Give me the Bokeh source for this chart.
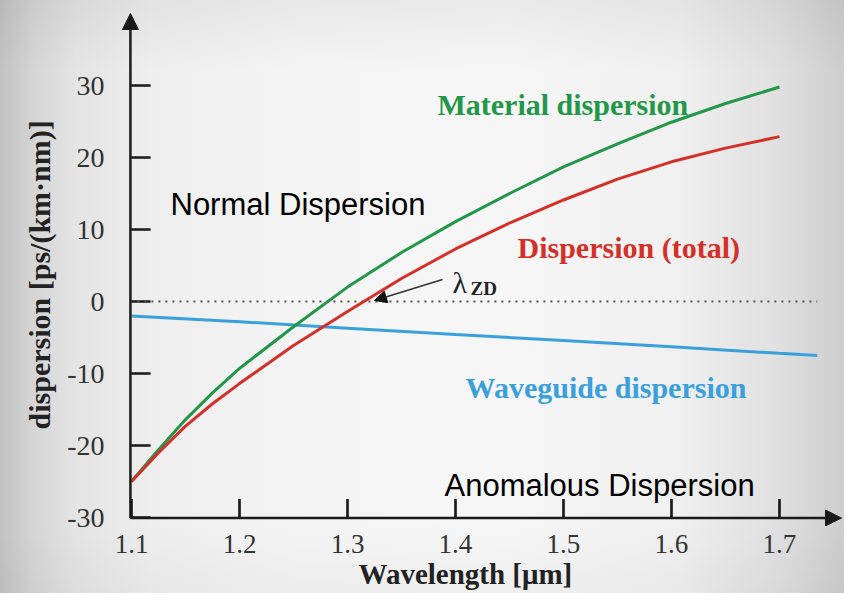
import math
from bokeh.plotting import figure
from bokeh.models import Range1d, FixedTicker, Label, Arrow, NormalHead, Title
from bokeh.embed import file_html
from bokeh.resources import INLINE

# ---- data ----
wavelength = [1.10, 1.125, 1.15, 1.175, 1.20, 1.25, 1.30, 1.35, 1.40, 1.45, 1.50, 1.55, 1.60, 1.65, 1.70]
material_dispersion = [-25.0, -20.6, -16.4, -12.7, -9.3, -3.5, 2.0, 6.8, 11.1, 15.0, 18.7, 21.9, 24.9, 27.5, 29.8]
total_dispersion = [-25.0, -21.0, -17.3, -14.2, -11.4, -6.1, -1.4, 3.2, 7.3, 10.9, 14.1, 17.0, 19.4, 21.3, 22.9]
wg_wavelength = [1.10, 1.20, 1.30, 1.40, 1.50, 1.60, 1.70, 1.735]
waveguide_dispersion = [-2.0, -2.8, -3.7, -4.6, -5.4, -6.3, -7.2, -7.5]
zero_line_x = [1.099, 1.735]
zero_line_y = [0, 0]
x_ticks = [1.1, 1.2, 1.3, 1.4, 1.5, 1.6, 1.7]
y_ticks = [-30, -20, -10, 0, 10, 20, 30]
y_tick_labels = ["-30", "-20", "-10", "0", "10", "20", "30"]
lambda_zd = (1.325, 0.15)

# axis geometry (data units)
AX_X = 1.099          # position of the vertical axis
AX_Y = -30.07         # position of the horizontal axis
X_TIP = 1.7574        # end of horizontal arrow
Y_TIP = 40.0          # end of vertical arrow
PX_X = 1.0 / 1080     # one pixel in x data units
PX_Y = 10.0 / 72      # one pixel in y data units

GREEN = "#22974a"
RED = "#d3302a"
BLUE = "#3aa0dc"
AXIS = "#1a1a1a"
SERIF = "Liberation Serif"
SANS = "Liberation Sans"

p = figure(width=844, height=593, output_backend="svg", toolbar_location=None,
           x_range=Range1d(1.08796, 1.76019), y_range=Range1d(-31.25, 41.806),
           min_border_left=118, min_border_right=0, min_border_top=0, min_border_bottom=67)
p.outline_line_color = None
p.background_fill_alpha = 0
p.border_fill_alpha = 0
p.styles = {
    "background-image": (
        "linear-gradient(to bottom, rgba(0,0,0,0.05) 0%, rgba(0,0,0,0) 12%, rgba(0,0,0,0) 88%, rgba(0,0,0,0.03) 100%), "
        "linear-gradient(to right, #c2c2c2 0%, #d5d5d5 4%, #e4e4e4 9%, #eeeeee 18%, #f4f4f4 35%, #f6f6f6 60%, #f0f0f0 80%, #e0e0e0 92%, #cdcdcd 100%)"
    )
}
p.xgrid.visible = False
p.ygrid.visible = False

for ax, ticks, size, standoff in ((p.xaxis, x_ticks, "27px", 2), (p.yaxis, y_ticks, "28px", 8)):
    ax.ticker = FixedTicker(ticks=ticks)
    ax.axis_line_color = None
    ax.major_tick_line_color = None
    ax.minor_tick_line_color = None
    ax.major_label_text_font = SERIF
    ax.major_label_text_font_size = size
    ax.major_label_text_color = "#333333"
    ax.major_label_standoff = standoff
p.yaxis.major_label_overrides = {float(t): s for t, s in zip(y_ticks, y_tick_labels)}

# axis titles
p.add_layout(Title(text="Wavelength [μm]", align="left", offset=240, standoff=0,
                   text_font=SERIF, text_font_size="29px", text_font_style="bold",
                   text_color="#222222"), "below")
p.add_layout(Title(text="dispersion [ps/(km·nm)]", align="left", offset=97, standoff=17,
                   text_font=SERIF, text_font_size="30px", text_font_style="bold",
                   text_color="#222222"), "left")

# inward tick marks (about 20 px long), as thin filled bars plus strokes
p.quad(left=[AX_X] * len(y_ticks), right=[AX_X + 20 * PX_X] * len(y_ticks),
       bottom=[t - 1.1 * PX_Y for t in y_ticks], top=[t + 1.1 * PX_Y for t in y_ticks],
       fill_color=AXIS, line_color=None)
p.quad(left=[t - 1.1 * PX_X for t in x_ticks], right=[t + 1.1 * PX_X for t in x_ticks],
       bottom=[AX_Y] * len(x_ticks), top=[AX_Y + 19 * PX_Y] * len(x_ticks),
       fill_color=AXIS, line_color=None)
for t in y_ticks:
    p.line([AX_X, AX_X + 20 * PX_X], [t, t], line_color=AXIS, line_width=2.2)
for t in x_ticks:
    p.line([t, t], [AX_Y, AX_Y + 19 * PX_Y], line_color=AXIS, line_width=2.2)

# zero line
p.line(zero_line_x, zero_line_y, line_color="#555555", line_width=2, line_dash="2 5")

# curves
p.line(wg_wavelength, waveguide_dispersion, line_color=BLUE, line_width=3)
p.line(wavelength, material_dispersion, line_color=GREEN, line_width=3)
p.line(wavelength, total_dispersion, line_color=RED, line_width=3)

# axis lines with arrow heads
p.add_layout(Arrow(x_start=AX_X, y_start=AX_Y, x_end=AX_X, y_end=Y_TIP, line_color=AXIS, line_width=2.5,
                   end=NormalHead(size=16, fill_color=AXIS, line_color=AXIS)))
p.add_layout(Arrow(x_start=AX_X, y_start=AX_Y, x_end=X_TIP, y_end=AX_Y, line_color=AXIS, line_width=2.5,
                   end=NormalHead(size=16, fill_color=AXIS, line_color=AXIS)))

# lambda_ZD arrow
p.add_layout(Arrow(x_start=1.388, y_start=3.06, x_end=lambda_zd[0], y_end=lambda_zd[1],
                   line_color="#333333", line_width=1.5,
                   end=NormalHead(size=12, fill_color="#111111", line_color="#111111")))

def lab(x, y, text, color, font, size, style="normal"):
    p.add_layout(Label(x=x, y=y, text=text, text_color=color, text_font=font,
                       text_font_size=size, text_font_style=style, text_align="left",
                       text_baseline="alphabetic"))

lab(1.3833, 27.36, "Material dispersion", GREEN, SERIF, "30px", "bold")
lab(1.4574, 7.5, "Dispersion (total)", RED, SERIF, "30px", "bold")
lab(1.4093, -11.9, "Waveguide dispersion", BLUE, SERIF, "30px", "bold")
lab(1.1361, 13.47, "Normal Dispersion", "#000000", SANS, "31px")
lab(1.3898, -25.56, "Anomalous Dispersion", "#000000", SANS, "31px")
lab(1.3972, 2.64, "λ", "#222222", SERIF, "30px")
lab(1.4139, 1.8, "ZD", "#222222", SERIF, "19px", "bold")

open("out.html", "w").write(file_html(p, INLINE))
